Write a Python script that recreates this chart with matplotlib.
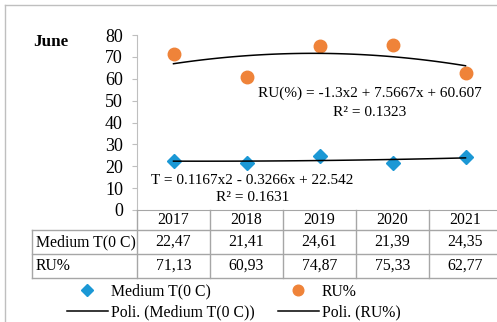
import matplotlib.pyplot as plt
import numpy as np
from matplotlib.lines import Line2D

years = ["2017", "2018", "2019", "2020", "2021"]
temp = [22.47, 21.41, 24.61, 21.39, 24.35]
ru = [71.13, 60.93, 74.87, 75.33, 62.77]
row_labels = ["Medium T(0 C)", "RU%"]
temp_txt = ["22,47", "21,41", "24,61", "21,39", "24,35"]
ru_txt = ["71,13", "60,93", "74,87", "75,33", "62,77"]
yticks = [0, 10, 20, 30, 40, 50, 60, 70, 80]

plt.rcParams['font.family'] = ['Liberation Serif', 'DejaVu Serif']
fs = 11
tfs = 11.3
W, H = 497, 322
blue = '#1b98d5'
orange = '#ef8339'
grid = '#a6a6a6'

fig = plt.figure(figsize=(W / 100, H / 100), dpi=100)

def fx(px):
    return px / W

def fy(py):
    return 1 - py / H

# figure border (only top and left fall inside the crop)
fig.add_artist(Line2D([fx(5), 1], [fy(5), fy(5)], color='#bfbfbf', lw=1))
fig.add_artist(Line2D([fx(5), fx(5)], [fy(5), 0], color='#bfbfbf', lw=1))

ax = fig.add_axes([fx(137), fy(210), fx(502 - 137), 175 / H])
x = np.arange(1, len(years) + 1)

p_t, = ax.plot(x, temp, 'D', color=blue, ms=7, ls='none', label='Medium T(0 C)')
p_r, = ax.plot(x, ru, 'o', color=orange, ms=9, ls='none', label='RU%')

xs = np.linspace(1, 5, 100)
ct = np.polyfit(x, temp, 2)
cr = np.polyfit(x, ru, 2)
l_t, = ax.plot(xs, np.polyval(ct, xs), color='black', lw=1.1, label='Poli. (Medium T(0 C))')
l_r, = ax.plot(xs, np.polyval(cr, xs), color='black', lw=1.1, label='Poli. (RU%)')

ax.set_xlim(0.5, 5.5)
ax.set_ylim(0, 80)
ax.set_yticks(yticks)
ax.set_xticks([])
ax.tick_params(axis='y', direction='out', length=3.6, width=0.8, color='#bfbfbf',
               pad=6.5, labelsize=13)
for s in ['top', 'right']:
    ax.spines[s].set_visible(False)
ax.spines['left'].set_color('#bfbfbf')
ax.spines['bottom'].set_color(grid)

ax.text(3.69, 53.5, 'RU(%) = -1.3x2 + 7.5667x + 60.607', ha='center', va='center', fontsize=fs)
ax.text(3.69, 44.8, 'R² = 0.1323', ha='center', va='center', fontsize=fs)
ax.text(2.08, 13.7, 'T = 0.1167x2 - 0.3266x + 22.542', ha='center', va='center', fontsize=fs)
ax.text(2.08, 5.9, 'R² = 0.1631', ha='center', va='center', fontsize=fs)

fig.text(fx(33), fy(42), 'June', fontsize=12.3, weight='bold', va='center')

# data table below the axis
tr = ax.get_xaxis_transform()
def ay(py):
    return (210 - py) / 175

for yy in [230, 254, 278]:
    fig.add_artist(Line2D([fx(32), fx(510)], [fy(yy), fy(yy)], color=grid, lw=1))
fig.add_artist(Line2D([fx(32), fx(32)], [fy(230), fy(278)], color=grid, lw=1))
for b in np.arange(0.5, 5.5, 1):
    ax.plot([b, b], [ay(210), ay(278)], transform=tr, color=grid, lw=1, clip_on=False)
for i, yr in enumerate(years):
    ax.text(x[i], ay(220), yr, transform=tr, ha='center', va='center', fontsize=tfs)
    ax.text(x[i], ay(242), temp_txt[i], transform=tr, ha='center', va='center', fontsize=tfs)
    ax.text(x[i], ay(266), ru_txt[i], transform=tr, ha='center', va='center', fontsize=tfs)
fig.text(fx(36), fy(242), row_labels[0], va='center', fontsize=tfs)
fig.text(fx(36), fy(266), row_labels[1], va='center', fontsize=tfs)

fig.legend(handles=[p_t, l_t, p_r, l_r], ncol=2, frameon=False, fontsize=tfs,
           loc='upper left', bbox_to_anchor=(fx(59), fy(276)),
           handlelength=2.6, handletextpad=0.2, columnspacing=1.5,
           labelspacing=0.3, borderpad=0, markerscale=0.85)

fig.savefig('out.png', dpi=100)
